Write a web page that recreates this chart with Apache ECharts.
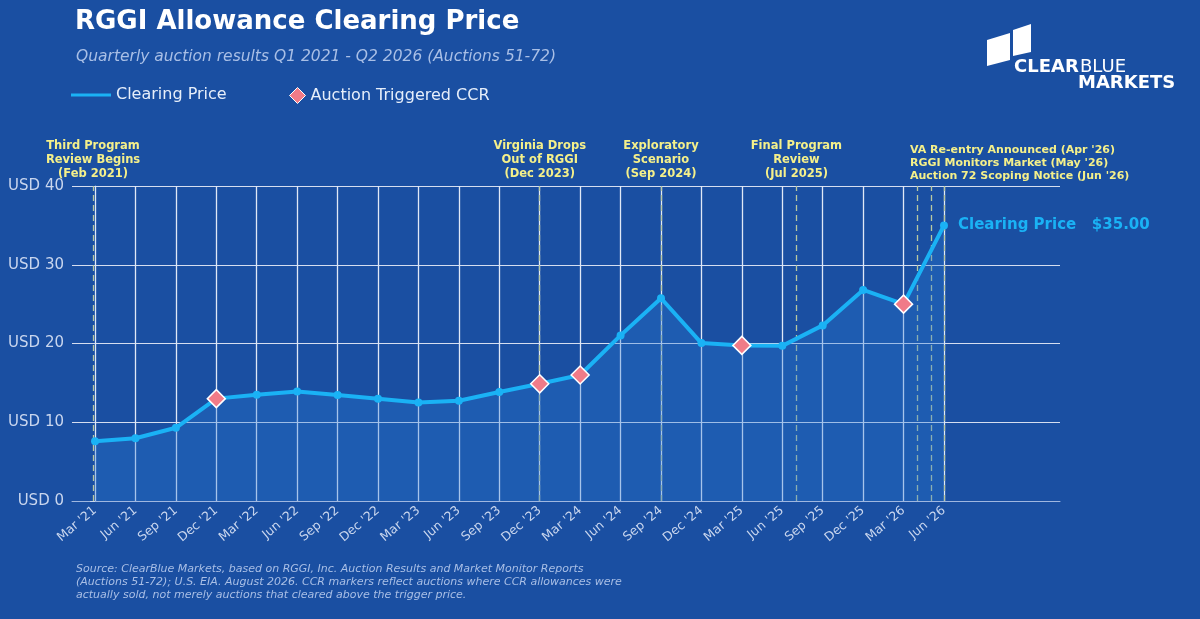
<!DOCTYPE html>
<html><head><meta charset="utf-8">
<script src="https://cdn.jsdelivr.net/npm/echarts@6/dist/echarts.min.js"></script>
<style>html,body{margin:0;background:#1a4fa2}#c{width:1200px;height:619px}</style>
</head><body><div id="c"></div>
<script>
const categories=["Mar '21","Jun '21","Sep '21","Dec '21","Mar '22","Jun '22","Sep '22","Dec '22","Mar '23","Jun '23","Sep '23","Dec '23","Mar '24","Jun '24","Sep '24","Dec '24","Mar '25","Jun '25","Sep '25","Dec '25","Mar '26","Jun '26"];
const prices=[7.6,7.97,9.3,13.0,13.5,13.9,13.45,12.99,12.5,12.73,13.85,14.88,16.0,21.03,25.75,20.05,19.76,19.70,22.3,26.8,25.0,35.0];
const ccrIdx=[3,11,12,16,20];
const events=[{x:-0.05,label:"Third Program\nReview Begins\n(Feb 2021)"},{x:11,label:"Virginia Drops\nOut of RGGI\n(Dec 2023)"},{x:14,label:"Exploratory\nScenario\n(Sep 2024)"},{x:17.35,label:"Final Program\nReview\n(Jul 2025)"},{x:20.35,label:""},{x:20.68,label:""},{x:21,label:""}];
const idx=categories.map((c,i)=>i);
const chart=echarts.init(document.getElementById('c'));
const yellow='#f5f08a';
const font='DejaVu Sans';
const evLabel={show:true,position:'end',color:yellow,fontWeight:'bold',fontSize:11.5,lineHeight:14,fontFamily:font,distance:5};
chart.setOption({
 backgroundColor:'#1a4fa2',
 animation:false,
 title:[{text:'RGGI Allowance Clearing Price',left:70,top:4,textStyle:{color:'#fff',fontSize:26,fontWeight:'bold',fontFamily:font}},
  {text:'Quarterly auction results Q1 2021 - Q2 2026 (Auctions 51-72)',left:71,top:44,textStyle:{color:'#a9bfe6',fontSize:15.5,fontStyle:'italic',fontWeight:'normal',fontFamily:font}},
  {text:"Source: ClearBlue Markets, based on RGGI, Inc. Auction Results and Market Monitor Reports\n(Auctions 51-72); U.S. EIA. August 2026. CCR markers reflect auctions where CCR allowances were\nactually sold, not merely auctions that cleared above the trigger price.",left:71,top:558,textStyle:{color:'#a9bfe6',fontSize:11,fontStyle:'italic',fontWeight:'normal',lineHeight:13,fontFamily:font}}],
 legend:[{left:66,top:82,textStyle:{color:'#e6eefa',fontSize:16,fontFamily:font},itemWidth:40,itemHeight:14,
  data:[{name:'Clearing Price',icon:'path://M0,6L40,6L40,9L0,9Z'}]},
  {left:284,top:82,textStyle:{color:'#e6eefa',fontSize:16,fontFamily:font},itemWidth:16,itemHeight:16,
  data:[{name:'Auction Triggered CCR',icon:'diamond',itemStyle:{color:'#f07b88',borderColor:'#fff',borderWidth:1,opacity:1}}]}],
 grid:{left:72,right:140,top:186,bottom:118},
 xAxis:{type:'value',min:-0.57,max:23.87,
  axisLine:{show:true,lineStyle:{color:'#9fb7e0'}},axisTick:{show:false},splitLine:{show:false},
  axisLabel:{customValues:idx,formatter:v=>categories[Math.round(v)],rotate:40,color:'#c9d6ee',fontSize:12.5,fontFamily:font,margin:8}},
 yAxis:{type:'value',min:0,max:40,interval:10,
  axisLine:{show:true,lineStyle:{color:'#9fb7e0'}},axisTick:{show:true,length:5,lineStyle:{color:'#c9d6ee'}},
  splitLine:{lineStyle:{color:'#d5def0',width:1.2}},
  axisLabel:{formatter:v=>'USD '+v,color:'#c9d6ee',fontSize:15,fontFamily:font}},
 series:[
  {name:'grid',type:'line',data:[],markLine:{silent:true,symbol:'none',label:{show:false},lineStyle:{color:'#e0e8f6',type:'solid',width:1.3},data:idx.map(i=>({xAxis:i}))}},
  {name:'events',type:'line',data:[],z:3,markLine:{silent:true,symbol:'none',lineStyle:{color:'#b8c9a0',type:[6,4],width:1.3},
   label:evLabel,
   data:events.map(e=>({xAxis:e.x,label:Object.assign({},evLabel,{formatter:e.label})}))}},
  {name:'Clearing Price',type:'line',z:5,data:prices.map((p,i)=>[i,p]),symbol:'circle',symbolSize:8,
   lineStyle:{color:'#1ab2f5',width:4},itemStyle:{color:'#1ab2f5'},
   areaStyle:{color:'rgba(40,120,210,0.45)'},
   endLabel:{show:true,formatter:'Clearing Price   $35.00',color:'#1ab2f5',fontSize:15,fontWeight:'bold',fontFamily:font,distance:14}},
  {name:'Auction Triggered CCR',type:'scatter',z:6,symbol:'diamond',symbolSize:18,data:ccrIdx.map(i=>[i,prices[i]]),
   itemStyle:{color:'#f07b88',borderColor:'#fff',borderWidth:1.5,opacity:1}}
 ],
 graphic:[
  {type:'text',left:910,top:144,style:{text:"VA Re-entry Announced (Apr '26)\nRGGI Monitors Market (May '26)\nAuction 72 Scoping Notice (Jun '26)",fill:yellow,font:'bold 11px DejaVu Sans',lineHeight:13}},
  {type:'polygon',shape:{points:[[987,40],[1010,33],[1010,60],[987,66]]},style:{fill:'#fff'}},
  {type:'polygon',shape:{points:[[1013,30],[1031,24],[1031,52],[1013,56]]},style:{fill:'#fff'}},
  {type:'text',left:1014,top:58,style:{text:'CLEAR',fill:'#fff',font:'bold 18px DejaVu Sans'}},
  {type:'text',left:1080,top:58,style:{text:'BLUE',fill:'#fff',font:'18px DejaVu Sans'}},
  {type:'text',left:1078,top:74,style:{text:'MARKETS',fill:'#fff',font:'bold 18px DejaVu Sans'}}
 ]
});
</script></body></html>
